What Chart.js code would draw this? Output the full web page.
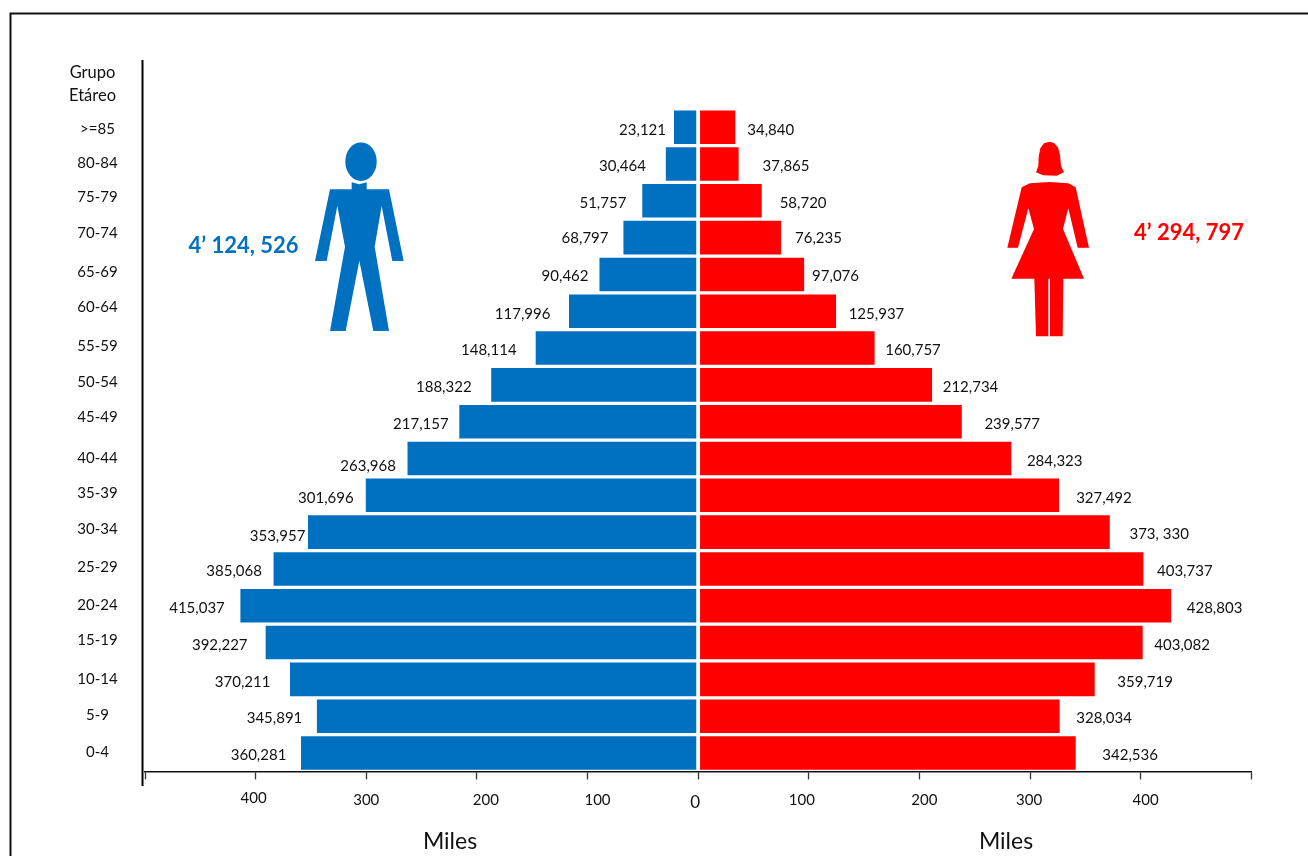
<!DOCTYPE html>
<html>
<head>
<meta charset="utf-8">
<title>Pirámide de población</title>
<script src="https://cdn.jsdelivr.net/npm/chart.js@4/dist/chart.umd.min.js"></script>
<style>
html,body{margin:0;padding:0;background:#fff;overflow:hidden}
canvas{display:block}
</style>
</head>
<body>
<canvas id="pyr" width="1308" height="856"></canvas>
<script>
const GROUPS=['>=85','80-84','75-79','70-74','65-69','60-64','55-59','50-54','45-49','40-44','35-39','30-34','25-29','20-24','15-19','10-14','5-9','0-4']
const MALE=[23121,30464,51757,68797,90462,117996,148114,188322,217157,263968,301696,353957,385068,415037,392227,370211,345891,360281]
const FEMALE=[34840,37865,58720,76235,97076,125937,160757,212734,239577,284323,327492,373330,403737,428803,403082,359719,328034,342536]
const FEMALE_TEXT=['34,840','37,865','58,720','76,235','97,076','125,937','160,757','212,734','239,577','284,323','327,492','373, 330','403,737','428,803','403,082','359,719','328,034','342,536']
const TICK_VALUES=[-400000,-300000,-200000,-100000,0,100000,200000,300000,400000]
const TICK_TEXT=['400','300','200','100','0','100','200','300','400']
const TOTAL_M='4’ 124, 526',TOTAL_F='4’ 294, 797'

// hand placed labels in the original: offsets from the bar end / axis position
const M_DX=[-30,-42,-38,-37,-33,-45,-45.5,-46,-37,-38,-38.5,-29,-38,-42,-44.5,-46,-41,-41]
const M_DY=[2,1,1,0,1,2,1,1,1,6.5,2,3,1,1,1.5,2,.5,1]
const F_DX=[34,46,40,36,30,39,37,37,49,42,43.5,48,40,42,38,49,43,53]
const F_DY=[2,1,1,0,1,2,1,1,1,1.5,2,1,1,1,1.5,2,.5,1]
const G_DY=[1,-2,-5,-5,-3,-5,-3,-4,-6,-1,-3,-4,-3,-2,-3,-1,-2,-2]
const T_DX=[-2,0,9,10,-3,-7,5,-1,5]
const T_Y=[797.5,799.5,799.5,799,802,799,799.5,799.5,799.5]

const BLUE='#0070C0',RED='#FF0000',INK='#111',FONT='Lato'

// silhouettes (3x crop units)
const MAN=[[155,157],[178,163],[200,157],[200,178],[267,178],[311,393],[277,393],[245,228],[224,350],[267,603],[220,603],[178,392],[137,603],[90,603],[135,350],[112,228],[80,393],[45,393],[90,178],[155,178]]
const WOMAN=[[95,172],[120,160],[178,156],[235,160],[257,172],[297,353],[263,353],[235,235],[219,297],[282,446],[220,446],[218,619],[180,619],[180,446],[175,446],[175,619],[138,619],[133,446],[64,446],[132,297],[115,235],[84,353],[52,353]]
const HAIR=[[178,35],[162,40],[151,55],[146,80],[145,108],[138,127],[160,136],[200,137],[222,127],[213,108],[210,75],[204,52],[192,39]]

function poly(ctx,pts,ox,oy){
  ctx.beginPath()
  pts.forEach((p,i)=>{const x=ox+p[0]/3,y=oy+p[1]/3;i?ctx.lineTo(x,y):ctx.moveTo(x,y)})
  ctx.closePath();ctx.fill()
}
function txt(ctx,s,x,y,font,color){
  ctx.font=font;ctx.fillStyle=color;ctx.textAlign='center';ctx.textBaseline='middle'
  ctx.fillText(s,x,y+1)
}

const decor={
  id:'decor',
  afterDatasetsDraw(chart){
    const ctx=chart.ctx,xs=chart.scales.x,f15='15px '+FONT
    ctx.save()
    // frame, open on the right and at the bottom
    ctx.strokeStyle='#111';ctx.lineWidth=2
    ctx.beginPath();ctx.moveTo(1308,13.5);ctx.lineTo(10.5,13.5);ctx.lineTo(10.5,856);ctx.stroke()
    // age axis line
    ctx.lineWidth=2;ctx.strokeStyle='#000'
    ctx.beginPath();ctx.moveTo(142.5,60);ctx.lineTo(142.5,786);ctx.stroke()

    const mm=chart.getDatasetMeta(0).data,fm=chart.getDatasetMeta(1).data
    GROUPS.forEach((g,i)=>{
      txt(ctx,g,97.5,mm[i].y+G_DY[i],f15,INK)
      txt(ctx,MALE[i].toLocaleString('en-US'),mm[i].x+M_DX[i],mm[i].y+M_DY[i],f15,INK)
      txt(ctx,FEMALE_TEXT[i],fm[i].x+F_DX[i],fm[i].y+F_DY[i],f15,INK)
    })
    TICK_VALUES.forEach((v,i)=>txt(ctx,TICK_TEXT[i],xs.getPixelForValue(v)+T_DX[i],T_Y[i],(v===0?'17px ':'15px ')+FONT,INK))
    txt(ctx,'Grupo',92.5,72,'16.5px '+FONT,INK)
    txt(ctx,'Etáreo',92.5,95,'16.5px '+FONT,INK)
    txt(ctx,'Miles',450,841,'23px '+FONT,INK)
    txt(ctx,'Miles',1006,841,'23px '+FONT,INK)
    txt(ctx,TOTAL_M,243.5,245,'bold 22px '+FONT,BLUE)
    txt(ctx,TOTAL_F,1189,232,'bold 22px '+FONT,RED)

    ctx.fillStyle=BLUE
    ctx.beginPath();ctx.ellipse(361,161.7,15.7,19.3,0,0,Math.PI*2);ctx.fill()
    poly(ctx,MAN,300,130)
    ctx.fillStyle=RED
    poly(ctx,HAIR,990,130)
    poly(ctx,WOMAN,990,130)
    ctx.restore()
  }
}

new Chart(document.getElementById('pyr'),{
  type:'bar',
  data:{labels:GROUPS,datasets:[
    {label:'Hombres',data:MALE.map(v=>-v),backgroundColor:BLUE},
    {label:'Mujeres',data:FEMALE,backgroundColor:RED},
  ]},
  options:{
    indexAxis:'y',responsive:false,animation:false,
    layout:{padding:{left:145,right:56.7,top:108.8,bottom:0}},
    datasets:{bar:{barPercentage:.987,categoryPercentage:1,borderWidth:1.4,borderColor:'#fff',borderSkipped:false}},
    plugins:{legend:{display:false},tooltip:{enabled:false}},
    scales:{
      x:{stacked:true,min:-500000,max:500000,
        ticks:{display:false,stepSize:100000},
        grid:{drawOnChartArea:false,tickLength:8,tickColor:'#333',tickWidth:1.3},
        border:{color:'#111',width:1.5,z:1},
        afterFit(s){s.height=84.6}},
      y:{stacked:true,display:false}
    }
  },
  plugins:[decor]
})
</script>
</body>
</html>
